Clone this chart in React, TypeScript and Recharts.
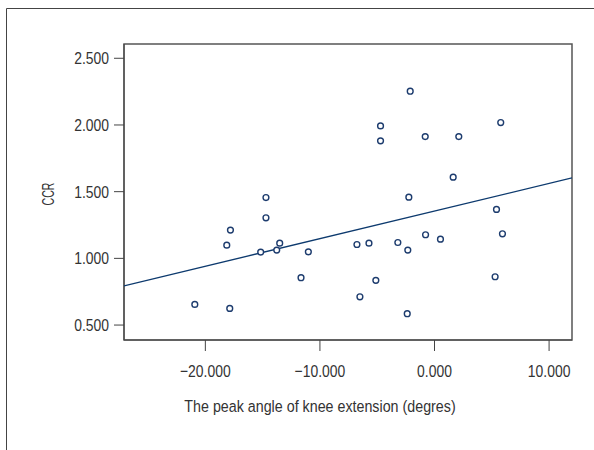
import { ScatterChart, Scatter, XAxis, YAxis, ReferenceArea, Label } from 'recharts';

// peak knee extension angle (degrees) vs CCR
const kneeAngle = [
  -20.92, -17.87, -18.13, -17.81, -14.71, -14.71, -15.17, -13.77, -13.51, -11.65,
  -2.12, -4.71, -4.71, -0.81, 2.12, 5.78, 1.63, -2.24, 5.41, 5.93,
  -11.01, -6.77, -5.72, -3.2, -2.33, -0.78, 0.52, 5.29, -5.12, -6.51, -2.38,
];
const ccr = [
  0.655, 0.625, 1.099, 1.212, 1.456, 1.304, 1.047, 1.062, 1.114, 0.855,
  2.253, 1.993, 1.881, 1.913, 1.913, 2.018, 1.609, 1.459, 1.367, 1.184,
  1.049, 1.104, 1.114, 1.119, 1.062, 1.177, 1.144, 0.862, 0.835, 0.712, 0.585,
];

// least squares fit drawn across the whole x range
const fitIntercept = 1.355;
const fitSlope = 0.0207;

const xDomain: [number, number] = [-27.1, 12];
const yDomain: [number, number] = [0.388, 2.607];
const xTicks = [-20, -10, 0, 10];
const yTicks = [0.5, 1, 1.5, 2, 2.5];

const points = kneeAngle.map((x, i) => ({ x, y: ccr[i] }));
const fitLine = xDomain.map((x) => ({ x, y: fitIntercept + fitSlope * x }));

const FONT = '"Liberation Sans", Arial, sans-serif';
const TEXT = '#333';
const fmt = (v: number) => v.toFixed(3).replace('-', '\u2212');

// the original uses a condensed face, so squeeze Liberation Sans sideways
function XTick({ x, y, payload }: any) {
  return (
    <text
      transform={`translate(${x},${y}) scale(0.82,1)`}
      textAnchor="middle"
      dy="0.71em"
      fill={TEXT}
      fontSize={17}
      fontFamily={FONT}
    >
      {fmt(payload.value)}
    </text>
  );
}

function YTick({ x, y, payload }: any) {
  return (
    <text
      transform={`translate(${x},${y}) scale(0.82,1)`}
      textAnchor="end"
      dy="0.355em"
      fill={TEXT}
      fontSize={17}
      fontFamily={FONT}
    >
      {fmt(payload.value)}
    </text>
  );
}

function Dot({ cx, cy }: any) {
  return <circle cx={cx} cy={cy} r={2.9} fill="#fff" stroke="#1d3c6e" strokeWidth={1.4} />;
}

export default function App() {
  return (
    <>
      <style>{'html,body{margin:0;padding:0;overflow:hidden;background:#fff}'}</style>
      <div style={{ position: 'relative', width: 594, height: 450, overflow: 'hidden' }}>
        <svg
          width={594}
          height={450}
          style={{ position: 'absolute', left: 0, top: 0, pointerEvents: 'none' }}
        >
          <path d="M6.5,460 L6.5,8.5 L600,8.5" fill="none" stroke="#444" strokeWidth={1} />
        </svg>
        <div style={{ position: 'absolute', left: 0, top: 0 }}>
          <ScatterChart
            width={594}
            height={450}
            margin={{ top: 44, right: 22, bottom: 0, left: 0 }}
          >
            <XAxis
              type="number"
              dataKey="x"
              domain={xDomain}
              ticks={xTicks}
              allowDataOverflow
              height={110}
              tickSize={11}
              tickMargin={14}
              stroke="#444"
              tick={<XTick />}
            >
              <Label
                content={({ viewBox }: any) => (
                  <text
                    transform={`translate(${viewBox.x + viewBox.width / 2 - 28},${viewBox.y + 72}) scale(0.84,1)`}
                    textAnchor="middle"
                    fill={TEXT}
                    fontSize={17}
                    fontFamily={FONT}
                  >
                    The peak angle of knee extension (degres)
                  </text>
                )}
              />
            </XAxis>
            <YAxis
              type="number"
              dataKey="y"
              domain={yDomain}
              ticks={yTicks}
              allowDataOverflow
              width={124}
              tickSize={10}
              tickMargin={5}
              stroke="#444"
              tick={<YTick />}
            >
              <Label
                content={({ viewBox }: any) => (
                  <text
                    transform={`translate(48,${viewBox.y + viewBox.height / 2 + 2}) rotate(-90) scale(0.62,1)`}
                    textAnchor="middle"
                    dy="0.355em"
                    fill={TEXT}
                    fontSize={17}
                    fontFamily={FONT}
                  >
                    CCR
                  </text>
                )}
              />
            </YAxis>
            <ReferenceArea
              x1={xDomain[0]}
              x2={xDomain[1]}
              y1={yDomain[0]}
              y2={yDomain[1]}
              fill="none"
              stroke="#555"
              strokeWidth={1.5}
            />
            <Scatter
              data={fitLine}
              line={{ stroke: '#0d3a6e', strokeWidth: 1.3 }}
              shape={() => <g />}
              isAnimationActive={false}
            />
            <Scatter data={points} shape={<Dot />} isAnimationActive={false} />
          </ScatterChart>
        </div>
      </div>
    </>
  );
}
